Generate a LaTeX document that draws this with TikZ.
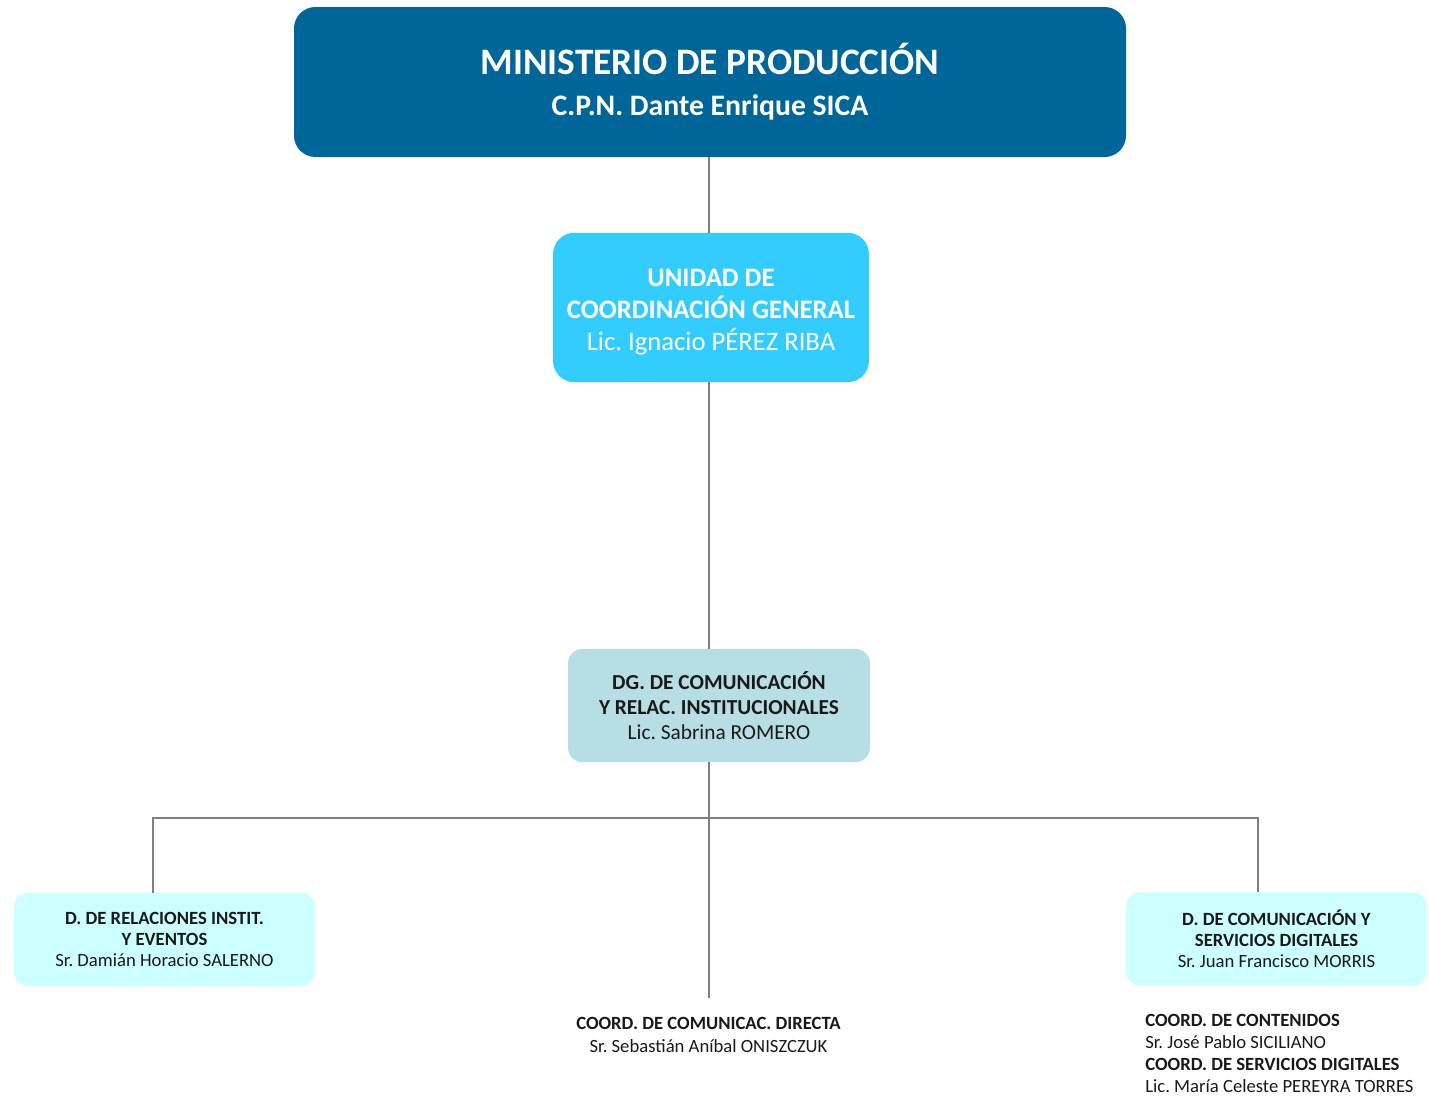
\documentclass[tikz,border=0pt]{standalone}
\usepackage{fontspec}
\setmainfont{Carlito}
\usepackage{tikz}
\usetikzlibrary{positioning,calc}
\definecolor{ministerio}{RGB}{0,102,153}
\definecolor{unidad}{RGB}{51,204,255}
\definecolor{direccion}{RGB}{183,222,228}
\definecolor{area}{RGB}{204,255,255}
\definecolor{linea}{RGB}{128,128,128}
\frenchspacing

\begin{document}
\begin{tikzpicture}[x=0.75pt,y=-0.75pt,
  box/.style={inner sep=0pt, align=center, rounded corners=15pt},
  topbox/.style={box, fill=ministerio, text=white, rounded corners=16pt,
    minimum width=624pt, minimum height=112.5pt,
    font=\fontsize{28}{30.75}\selectfont\bfseries},
  ucgbox/.style={box, fill=unidad, text=white, rounded corners=16pt,
    minimum width=237pt, minimum height=112pt,
    font=\fontsize{20}{24}\selectfont},
  dgbox/.style={box, fill=direccion, text=black!90, rounded corners=11pt,
    minimum width=226.5pt, minimum height=85pt,
    font=\fontsize{16}{19}\selectfont},
  dbox/.style={box, fill=area, text=black!90, rounded corners=11pt,
    minimum width=226pt, minimum height=70pt,
    font=\fontsize{14}{15.75}\selectfont},
  coord/.style={inner sep=0pt, text=black!90, font=\fontsize{14}{16.6}\selectfont},
  conn/.style={draw=linea, line width=1.5pt}
]
\useasboundingbox (0,0) rectangle (1429,1100);
\node[topbox] (min) at (710,82)
  {MINISTERIO DE PRODUCCIÓN\\
   \fontsize{22.3}{30.75}\selectfont C.P.N. Dante Enrique SICA};
\node[ucgbox] (ucg) at (711,307.5)
  {\rule{0pt}{20pt}\textbf{UNIDAD DE}\\ \textbf{COORDINACIÓN GENERAL}\\ Lic. Ignacio PÉREZ RIBA};
\node[dgbox] (dg) at (719,705.5)
  {\textbf{DG. DE COMUNICACIÓN}\\ \textbf{Y RELAC. INSTITUCIONALES}\\ Lic. Sabrina ROMERO};
\node[dbox] (drie) at (164.5,939.5)
  {\textbf{D. DE RELACIONES INSTIT.}\\ \textbf{Y EVENTOS}\\ Sr. Damián Horacio SALERNO};
\node[dbox] (dcsd) at (1276.5,939)
  {\textbf{D. DE COMUNICACIÓN Y}\\ \textbf{SERVICIOS DIGITALES}\\ Sr. Juan Francisco MORRIS};
\node[coord, align=center] (ccd) at (708.5,1035)
  {\textbf{COORD. DE COMUNICAC. DIRECTA}\\ Sr. Sebastián Aníbal ONISZCZUK};
\node[coord, align=left, anchor=north west] (csd) at (1145,1014)
  {\textbf{COORD. DE CONTENIDOS}\\ Sr. José Pablo SICILIANO\\
   \textbf{COORD. DE SERVICIOS DIGITALES}\\ Lic. María Celeste PEREYRA TORRES};
\coordinate (fin) at (709,998);
\coordinate (busl) at (153,818);
\coordinate (busr) at (1258,818);
\draw[conn] (min.south -| fin) -- (ucg.north -| fin);
\draw[conn] (ucg.south -| fin) -- (dg.north -| fin);
\draw[conn] (dg.south -| fin) -- (fin);
\draw[conn] (busl |- drie.north) -- (busl) -- (busr) -- (busr |- dcsd.north);
\end{tikzpicture}
\end{document}
